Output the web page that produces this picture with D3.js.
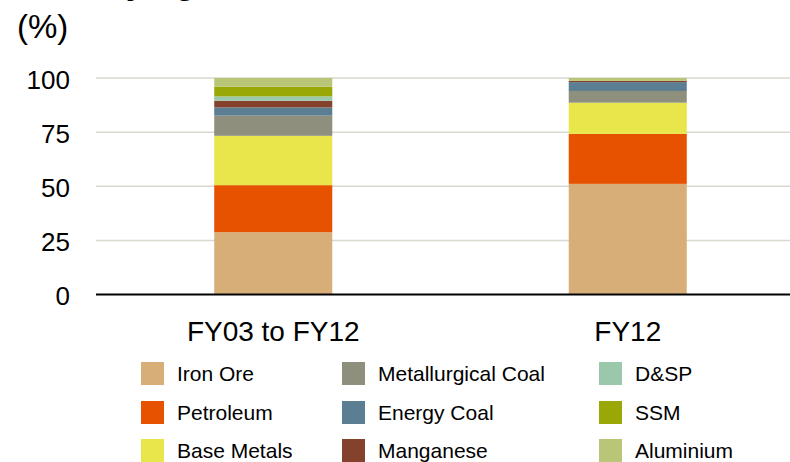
<!DOCTYPE html>
<html>
<head lang="en">
  <meta charset="UTF-8">
  <title>Revenue mix by commodity</title>
  <script src="https://d3js.org/d3.v7.min.js" charset="utf-8"></script>
  <style>
    body { margin: 0; background: #fff; }
    svg { display: block; }
    text { font-family: "Liberation Sans", Arial, sans-serif; fill: #000; }
  </style>
</head>
<body>
  <script type="text/javascript">
    // data, stacked from bottom to top
    var periods = ['FY03 to FY12', 'FY12'];
    var commodities = ['Iron Ore', 'Petroleum', 'Base Metals', 'Metallurgical Coal',
                       'Energy Coal', 'Manganese', 'D&SP', 'SSM', 'Aluminium'];
    var fy03to12 = [28.8, 21.7, 22.8, 9.3, 3.8, 3.1, 2.0, 4.5, 4.0];
    var fy12 = [51.1, 23.1, 14.4, 5.4, 4.1, 0.6, 0.0, 0.0, 1.3];
    var yTicks = [0, 25, 50, 75, 100];
    var colors = ['#d8ae78', '#e65200', '#e8e64b', '#8f8f7e',
                  '#5b7e92', '#84422d', '#99c9aa', '#99a707', '#b9c577'];

    var width = 790, height = 462;
    var svg = d3.select('body')
        .append('svg')
        .attr('width', width)
        .attr('height', height);

    // title, almost all of it sits above the frame, only descenders show
    svg.append('text')
        .attr('x', 1)
        .attr('y', -6)
        .style('font-size', '34px')
        .style('font-weight', 'bold')
        .text('Diversifying');

    svg.append('text')
        .attr('x', 17)
        .attr('y', 38)
        .style('font-size', '33px')
        .text('(%)');

    var x = d3.scaleBand()
        .domain(periods)
        .range([96, 805])
        .paddingInner(0.667)
        .paddingOuter(0.3335);

    var y = d3.scaleLinear()
        .domain([0, 100])
        .range([294.5, 78]);

    // gridlines
    svg.append('g')
        .selectAll('line')
        .data(yTicks.slice(1))
        .enter()
        .append('line')
        .attr('x1', 96)
        .attr('x2', width)
        .attr('y1', function (d) { return y(d); })
        .attr('y2', function (d) { return y(d); })
        .attr('stroke', '#d8d8cf')
        .attr('stroke-width', 1.5);

    // y axis labels, no axis line
    var yAxis = svg.append('g')
        .attr('transform', 'translate(70,0)')
        .call(d3.axisLeft(y).tickValues(yTicks).tickSize(0).tickPadding(0));
    yAxis.select('.domain').remove();
    yAxis.selectAll('text')
        .attr('dy', '0.4em')
        .style('font-size', '26px')
        .style('font-family', '"Liberation Sans", Arial, sans-serif')
        .attr('fill', '#000');

    // stacked bars
    var rows = periods.map(function (p, i) {
      var vals = i === 0 ? fy03to12 : fy12;
      var row = { period: p };
      commodities.forEach(function (c, j) { row[c] = vals[j]; });
      return row;
    });
    var series = d3.stack().keys(commodities)(rows);

    svg.append('g')
        .selectAll('g')
        .data(series)
        .enter()
        .append('g')
        .attr('fill', function (d, i) { return colors[i]; })
        .selectAll('rect')
        .data(function (d) { return d; })
        .enter()
        .append('rect')
        .attr('x', function (d) { return x(d.data.period); })
        .attr('width', x.bandwidth())
        .attr('y', function (d) { return y(d[1]); })
        .attr('height', function (d) { return y(d[0]) - y(d[1]); });

    // baseline
    svg.append('line')
        .attr('x1', 96)
        .attr('x2', width)
        .attr('y1', y(0))
        .attr('y2', y(0))
        .attr('stroke', '#000')
        .attr('stroke-width', 2);

    // category labels
    var xAxis = svg.append('g')
        .attr('transform', 'translate(0,' + y(0) + ')')
        .call(d3.axisBottom(x).tickSize(0).tickPadding(0));
    xAxis.select('.domain').remove();
    xAxis.selectAll('text')
        .attr('y', 46)
        .attr('dy', 0)
        .style('font-size', '28px')
        .style('font-family', '"Liberation Sans", Arial, sans-serif')
        .attr('fill', '#000');

    // legend: three columns of three
    var colX = [141, 342, 599];
    var rowY = [362, 401, 439];
    var legend = svg.append('g')
        .selectAll('g')
        .data(commodities)
        .enter()
        .append('g')
        .attr('transform', function (d, i) {
          return 'translate(' + colX[Math.floor(i / 3)] + ',' + rowY[i % 3] + ')';
        });
    legend.append('rect')
        .attr('width', 23)
        .attr('height', 23)
        .attr('fill', function (d, i) { return colors[i]; });
    legend.append('text')
        .attr('x', 36)
        .attr('y', 19)
        .style('font-size', '21px')
        .text(function (d) { return d; });
  </script>
</body>
</html>
